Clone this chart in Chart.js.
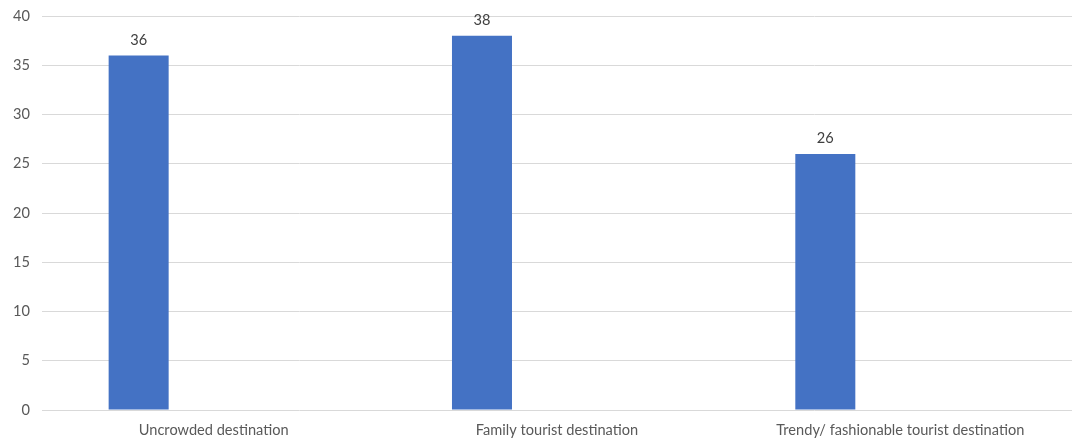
<!DOCTYPE html>
<html>
<head>
<meta charset="utf-8">
<script src="https://cdn.jsdelivr.net/npm/chart.js@4"></script>
<style>
html,body{margin:0;padding:0;background:#fff;}
#wrap{width:1073px;height:439px;position:relative;}
</style>
</head>
<body>
<div id="wrap"><canvas id="c"></canvas></div>
<script>
const categories = ["Uncrowded destination", "Family tourist destination", "Trendy/ fashionable tourist destination"];
const values = [36, 38, 26];
const yTicks = [0, 5, 10, 15, 20, 25, 30, 35, 40];

const FONT = "Lato, 'Open Sans', sans-serif";

const labelPlugin = {
  id: 'valueLabels',
  afterDatasetsDraw(chart) {
    const ctx = chart.ctx;
    const meta = chart.getDatasetMeta(0);
    ctx.save();
    ctx.font = "14.6px " + FONT;
    ctx.fillStyle = "#404040";
    ctx.textAlign = "center";
    ctx.textBaseline = "bottom";
    meta.data.forEach((bar, i) => {
      ctx.fillText(String(values[i]), bar.x, bar.y - 8);
    });
    ctx.restore();
  }
};

new Chart(document.getElementById('c'), {
  type: 'bar',
  data: {
    labels: categories,
    datasets: [
      { data: values, backgroundColor: '#4472C4', barPercentage: 0.4, categoryPercentage: 0.874 },
      { data: categories.map(() => null), backgroundColor: 'rgba(0,0,0,0)', barPercentage: 0.4, categoryPercentage: 0.874 }
    ]
  },
  options: {
    responsive: true,
    maintainAspectRatio: false,
    animation: false,
    devicePixelRatio: 1,
    layout: { padding: { top: 16, right: 1, bottom: 0, left: 0 } },
    plugins: { legend: { display: false }, tooltip: { enabled: false } },
    scales: {
      x: {
        grid: { display: false, drawTicks: false },
        border: { display: false },
        ticks: { font: { family: FONT, size: 14.6 }, color: '#595959', padding: 12, maxRotation: 0 },
        afterFit(s) { s.height = 29; s.paddingLeft = 0; s.paddingRight = 0; }
      },
      y: {
        min: 0, max: 40,
        afterBuildTicks(s) { s.ticks = yTicks.map(v => ({ value: v })); },
        grid: { color: '#d9d9d9', drawTicks: false },
        border: { display: false },
        ticks: { font: { family: FONT, size: 14.6 }, color: '#595959', padding: 12 },
        afterFit(s) { s.width = 42; s.paddingTop = 0; s.paddingBottom = 0; }
      }
    }
  },
  plugins: [labelPlugin]
});
</script>
</body>
</html>
